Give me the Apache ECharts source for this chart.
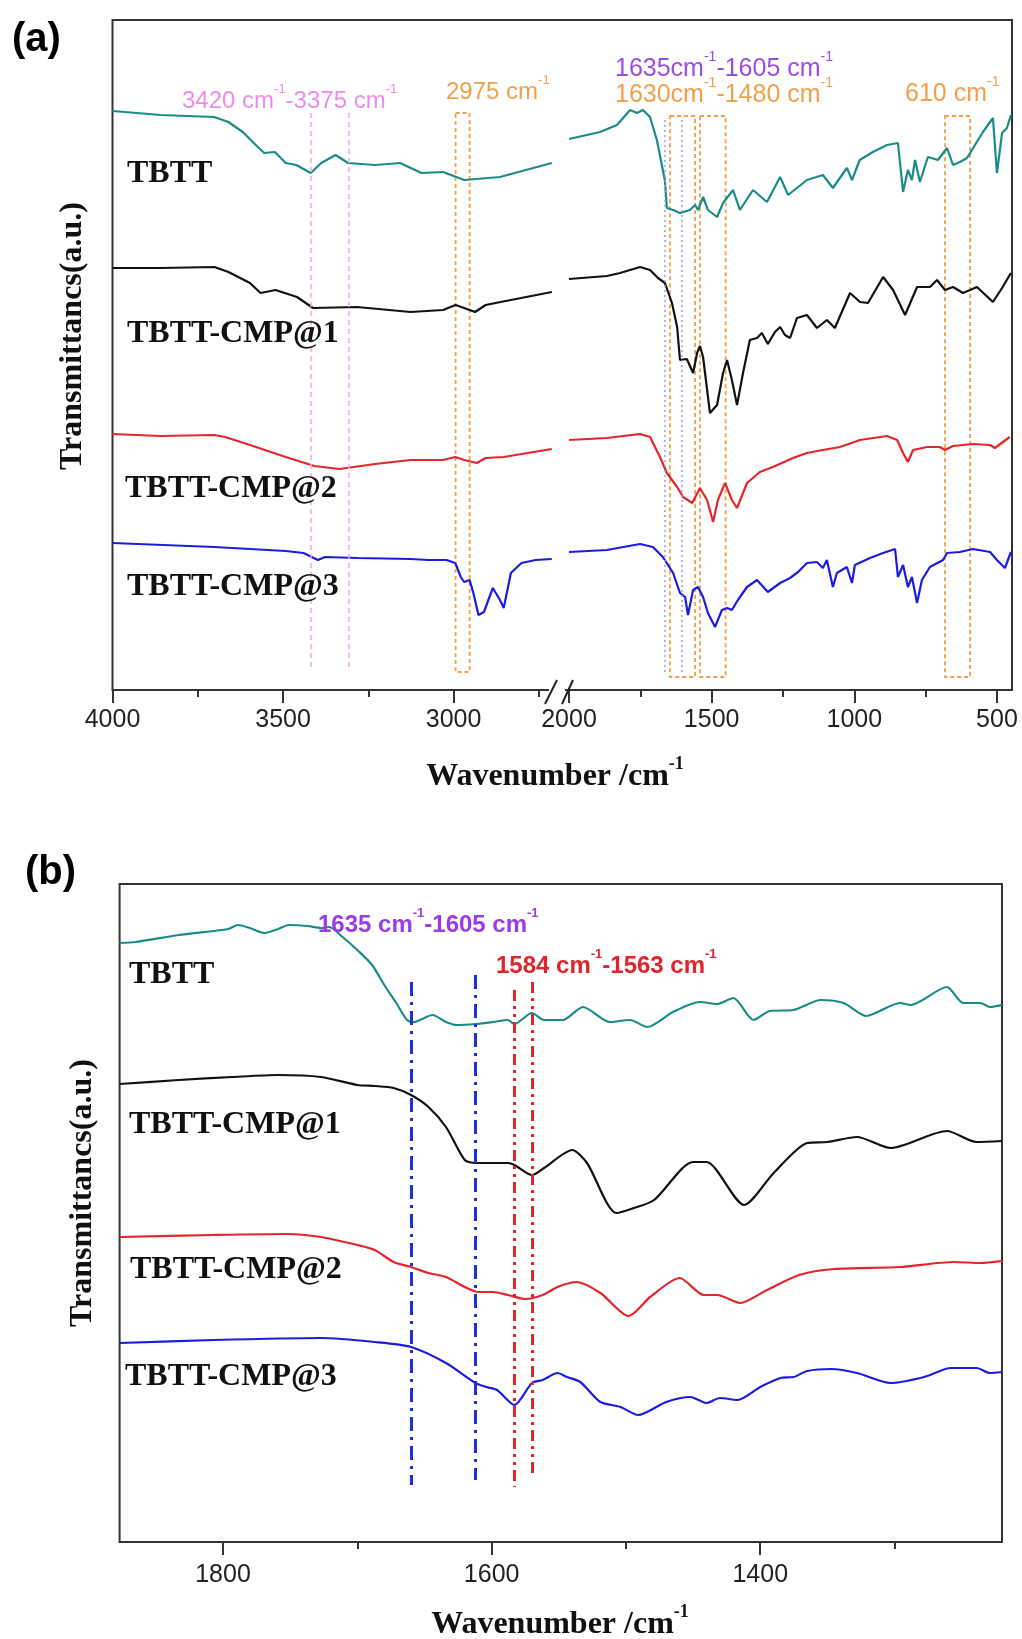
<!DOCTYPE html>
<html><head><meta charset="utf-8">
<script src="https://cdn.jsdelivr.net/npm/echarts@6/dist/echarts.min.js"></script>
<style>html,body{margin:0;padding:0;background:#fff}#c{width:1022px;height:1639px}</style>
</head><body><div id="c"></div>
<script>
// ---------- DATA (wavenumber, transmittance a.u.) ----------
const aTBTT_L = [[4000,579],[3859,575],[3702,573],[3660,568],[3618,558],[3586,547],[3555,537],[3524,538],[3492,527],[3461,525],[3419,517],[3388,527],[3346,535],[3309,527],[3230,525],[3157,527],[3094,517],[3031,518],[2969,510],[2864,513],[2712,527]];
const aCMP1_L = [[4000,422],[3858,422],[3701,423],[3660,418],[3597,407],[3566,397],[3522,400],[3459,393],[3412,382],[3283,383],[3126,378],[3031,380],[2994,385],[2969,382],[2937,378],[2906,385],[2862,388],[2712,398]];
const aCMP2_L = [[4000,256],[3859,254],[3702,255],[3670,253],[3597,245],[3492,233],[3408,224],[3335,221],[3230,226],[3126,230],[3031,230],[2995,233],[2969,230],[2932,227],[2906,232],[2853,233],[2712,241]];
const aCMP3_L = [[4000,147],[3702,143],[3492,139],[3440,137],[3398,130],[3377,133],[3283,132],[3126,131],[3073,130],[3021,130],[2995,127],[2979,113],[2969,108],[2953,110],[2942,97],[2927,75],[2911,78],[2885,102],[2864,90],[2853,82],[2832,117],[2801,127],[2759,130],[2712,131]];

const aTBTT_R = [[2000,551],[1891,558],[1832,565],[1786,580],[1762,577],[1741,580],[1716,573],[1692,550],[1664,510],[1657,482],[1635,480],[1611,477],[1576,480],[1558,485],[1548,480],[1530,493],[1513,480],[1481,473],[1460,487],[1425,500],[1401,480],[1355,500],[1306,488],[1260,513],[1232,495],[1166,510],[1110,515],[1075,502],[1026,522],[1008,510],[981,530],[935,538],[885,545],[847,547],[829,498],[812,520],[798,510],[787,530],[770,508],[742,533],[707,530],[675,542],[654,525],[630,528],[605,532],[549,558],[514,572],[500,517],[482,557],[465,562],[451,575]];
const aCMP1_R = [[2000,411],[1867,414],[1821,417],[1751,423],[1716,420],[1688,412],[1664,407],[1639,387],[1621,363],[1611,330],[1587,331],[1565,317],[1551,337],[1541,344],[1530,333],[1506,277],[1481,285],[1460,317],[1446,330],[1429,310],[1411,285],[1390,317],[1366,350],[1341,352],[1324,357],[1303,346],[1278,358],[1260,363],[1243,355],[1225,352],[1201,372],[1166,375],[1131,362],[1096,370],[1068,362],[1015,397],[980,388],[952,387],[899,413],[864,400],[822,375],[780,403],[735,403],[710,410],[682,400],[654,403],[619,397],[570,403],[514,388],[482,402],[451,417]];
const aCMP2_R = [[2000,250],[1867,252],[1751,256],[1716,253],[1681,233],[1657,217],[1621,203],[1600,193],[1568,187],[1541,202],[1516,190],[1495,168],[1478,190],[1453,207],[1429,190],[1411,182],[1376,207],[1331,218],[1285,223],[1215,232],[1166,237],[1110,240],[1050,243],[980,250],[885,254],[850,250],[829,237],[812,228],[794,240],[745,243],[700,243],[682,240],[654,244],[584,246],[524,245],[507,242],[479,248],[455,253]];
const aCMP3_R = [[2000,138],[1867,140],[1751,146],[1706,143],[1671,133],[1635,117],[1611,97],[1593,93],[1583,75],[1565,100],[1548,103],[1530,93],[1513,77],[1488,63],[1464,80],[1446,82],[1429,80],[1408,90],[1376,103],[1341,110],[1303,98],[1260,107],[1225,112],[1197,118],[1166,127],[1131,128],[1110,122],[1096,130],[1075,103],[1061,117],[1026,123],[1008,107],[998,125],[945,132],[899,137],[857,141],[847,113],[829,125],[812,103],[798,113],[780,87],[763,110],[735,123],[689,130],[675,137],[630,138],[584,141],[524,138],[500,130],[472,122],[451,138]];

const bTBTT = [[1877,599],[1865,600],[1833,607],[1796,613],[1789,617],[1780,614],[1769,609],[1759,613],[1751,617],[1737,616],[1727,614],[1721,615],[1711,605],[1700,592],[1689,577],[1679,555],[1671,539],[1663,522],[1658,520],[1644,527],[1634,520],[1626,517],[1612,518],[1599,520],[1588,522],[1583,518],[1570,529],[1561,522],[1547,522],[1532,535],[1512,520],[1497,522],[1484,515],[1465,530],[1445,540],[1432,538],[1420,544],[1405,522],[1393,531],[1375,532],[1355,542],[1338,539],[1321,526],[1296,539],[1288,537],[1261,555],[1249,539],[1236,539],[1229,535],[1220,537]];
const bCMP1 = [[1877,458],[1833,462],[1793,465],[1759,467],[1727,465],[1700,457],[1687,456],[1673,454],[1660,447],[1647,435],[1634,415],[1620,382],[1612,379],[1588,379],[1583,377],[1570,367],[1561,374],[1540,392],[1529,379],[1507,329],[1494,334],[1479,342],[1450,380],[1440,380],[1412,337],[1390,369],[1365,399],[1350,400],[1328,405],[1303,394],[1261,411],[1239,400],[1220,401]];
const bCMP2 = [[1877,305],[1807,307],[1753,308],[1727,305],[1700,297],[1687,292],[1673,280],[1660,275],[1647,269],[1634,265],[1620,255],[1610,250],[1599,250],[1588,247],[1575,243],[1562,247],[1551,255],[1537,260],[1519,249],[1498,226],[1482,245],[1460,264],[1442,247],[1432,247],[1415,239],[1395,252],[1371,267],[1345,273],[1296,275],[1256,280],[1236,279],[1220,281]];
const bCMP3 = [[1877,199],[1807,202],[1727,204],[1687,200],[1660,195],[1634,179],[1612,159],[1604,155],[1596,152],[1583,137],[1570,159],[1562,162],[1551,169],[1544,165],[1534,160],[1519,140],[1504,135],[1491,127],[1470,140],[1452,145],[1440,139],[1430,144],[1417,142],[1400,155],[1385,164],[1375,165],[1365,171],[1347,173],[1328,169],[1303,159],[1278,165],[1258,174],[1239,174],[1229,169],[1220,170]];

// tick values
const aTicksL = [4000, 3500, 3000];
const aMinorL = [3750, 3250, 2750];
const aTicksR = [2000, 1500, 1000, 500];
const aMinorR = [1750, 1250, 750];
const bTicks = [1800, 1600, 1400];
const bMinor = [1700, 1500, 1300];

// annotation positions (wavenumber, [top, bottom] in a.u.)
const aPinkLines = [3418, 3308];
const aOrangeBoxL = [[2994, 2953]];
const aBlueLines = [1664, 1604];
const aOrangeBoxR = [[1646, 1558], [1541, 1451], [682, 594]];
const bBlueLines = [[1660, 560, 57], [1612, 567, 62]];
const bRedLines = [[1583, 552, 55], [1570, 560, 64]];

const sampleNames = ['TBTT', 'TBTT-CMP@1', 'TBTT-CMP@2', 'TBTT-CMP@3'];
const colors = ['#1a8c88', '#111111', '#e3262b', '#1c1ce0'];

// ---------- BUILD ----------
const chart = echarts.init(document.getElementById('c'), null, {renderer: 'canvas'});
const SERIF = '"Liberation Serif","Times New Roman",serif';
const SANS = '"Liberation Sans",Arial,sans-serif';

function xMajor(grid, min, max, ticks, margin) {
  return {type: 'value', gridIndex: grid, min, max, inverse: true, position: 'bottom',
    axisLine: {show: false}, splitLine: {show: false},
    axisTick: {show: true, inside: false, length: 13, customValues: ticks, lineStyle: {color: '#333', width: 2}},
    axisLabel: {show: true, customValues: ticks, margin, fontSize: 25, fontFamily: SANS, color: '#222',
      formatter: v => String(v)}};
}
function xMinor(grid, min, max, ticks) {
  return {type: 'value', gridIndex: grid, min, max, inverse: true, position: 'bottom',
    axisLine: {show: false}, splitLine: {show: false},
    axisTick: {show: true, inside: false, length: 7, customValues: ticks, lineStyle: {color: '#333', width: 2}},
    axisLabel: {show: false}};
}
function yHidden(grid, max) {
  return {type: 'value', gridIndex: grid, min: 0, max, show: false};
}
function line(data, color, xi, yi, extra) {
  return Object.assign({type: 'line', data, xAxisIndex: xi, yAxisIndex: yi, showSymbol: false, symbol: 'none',
    lineStyle: {color, width: 2.2}, itemStyle: {color}, animation: false, silent: true, z: 3}, extra || {});
}
function vline(x, y1, y2, style) {
  return [{coord: [x, y1], lineStyle: style}, {coord: [x, y2]}];
}

const orangeBox = {color: 'rgba(0,0,0,0)', borderColor: '#f0a04b', borderWidth: 1.8, borderType: [4, 3]};

const series = [
  line(aTBTT_L, colors[0], 1, 1, {
    markLine: {silent: true, symbol: ['none', 'none'], label: {show: false}, animation: false,
      data: aPinkLines.map(v => vline(v, 577, 23, {color: '#f0a6f0', type: [5, 4], width: 1.5}))},
    markArea: {silent: true, label: {show: false}, animation: false,
      data: aOrangeBoxL.map(b => [{coord: [b[0], 577], itemStyle: orangeBox}, {coord: [b[1], 18]}])}
  }),
  line(aCMP1_L, colors[1], 1, 1),
  line(aCMP2_L, colors[2], 1, 1),
  line(aCMP3_L, colors[3], 1, 1),
  line(aTBTT_R, colors[0], 3, 2, {
    markLine: {silent: true, symbol: ['none', 'none'], label: {show: false}, animation: false,
      data: aBlueLines.map(v => vline(v, 570, 18, {color: '#9a9af0', type: [2, 3], width: 1.5}))},
    markArea: {silent: true, label: {show: false}, animation: false,
      data: aOrangeBoxR.map(b => [{coord: [b[0], 574], itemStyle: orangeBox}, {coord: [b[1], 13]}])}
  }),
  line(aCMP1_R, colors[1], 3, 2),
  line(aCMP2_R, colors[2], 3, 2),
  line(aCMP3_R, colors[3], 3, 2),
  line(bTBTT, colors[0], 5, 3, {smooth: 0.25, lineStyle: {color: colors[0], width: 2.2},
    markLine: {silent: true, symbol: ['none', 'none'], label: {show: false}, animation: false, z: 5,
      data: bBlueLines.map(l => vline(l[0], l[1], l[2], {color: '#2030d8', type: [14, 6, 3, 6], width: 3}))
        .concat(bRedLines.map(l => vline(l[0], l[1], l[2], {color: '#e0242c', type: [11, 5, 3, 5, 3, 5], width: 3})))}
  }),
  line(bCMP1, colors[1], 5, 3, {smooth: 0.25}),
  line(bCMP2, colors[2], 5, 3, {smooth: 0.25}),
  line(bCMP3, colors[3], 5, 3, {smooth: 0.25})
];

function tLabel(x, y, text) {
  return {type: 'text', x, y, z: 50, style: {text, font: 'bold 32px ' + SERIF, fill: '#111',
    align: 'left', verticalAlign: 'middle', textAlign: 'left', textVerticalAlign: 'middle'}};
}
function supText(x, y, parts, color, size, weight, family, align) {
  let txt = '';
  parts.forEach((p, i) => { txt += (i % 2 === 0 ? '{m|' : '{s|') + p + '}'; });
  const lh = size + 6;
  return {type: 'text', x, y, z: 50, style: {text: txt,
    align: align || 'left', verticalAlign: 'middle', textAlign: align || 'left', textVerticalAlign: 'middle',
    rich: {
      m: {fontSize: size, fontFamily: family, fontWeight: weight, fill: color, color, lineHeight: lh, verticalAlign: 'bottom'},
      s: {fontSize: Math.round(size * 0.55), fontFamily: family, fontWeight: weight, fill: color, color, lineHeight: lh, verticalAlign: 'top'}
    }}};
}

const graphic = [
  {type: 'text', x: 12, y: 40, z: 50, style: {text: '(a)', font: 'bold 40px ' + SANS, fill: '#000', align: 'left', verticalAlign: 'middle', textAlign: 'left', textVerticalAlign: 'middle'}},
  {type: 'text', x: 25, y: 873, z: 50, style: {text: '(b)', font: 'bold 40px ' + SANS, fill: '#000', align: 'left', verticalAlign: 'middle', textAlign: 'left', textVerticalAlign: 'middle'}},
  {type: 'text', x: 73, y: 336, rotation: Math.PI / 2, z: 50, style: {text: 'Transmittancs(a.u.)', font: 'bold 32px ' + SERIF, fill: '#111', align: 'center', verticalAlign: 'middle', textAlign: 'center', textVerticalAlign: 'middle'}},
  {type: 'text', x: 83, y: 1193, rotation: Math.PI / 2, z: 50, style: {text: 'Transmittancs(a.u.)', font: 'bold 32px ' + SERIF, fill: '#111', align: 'center', verticalAlign: 'middle', textAlign: 'center', textVerticalAlign: 'middle'}},
  supText(555, 774, ['Wavenumber /cm', '-1'], '#111', 32, 'bold', SERIF, 'center'),
  supText(560, 1622, ['Wavenumber /cm', '-1'], '#111', 32, 'bold', SERIF, 'center'),
  tLabel(127, 174, sampleNames[0]),
  tLabel(127, 334, sampleNames[1]),
  tLabel(125, 489, sampleNames[2]),
  tLabel(127, 587, sampleNames[3]),
  tLabel(129, 975, sampleNames[0]),
  tLabel(129, 1125, sampleNames[1]),
  tLabel(130, 1270, sampleNames[2]),
  tLabel(125, 1377, sampleNames[3]),
  supText(182, 98, ['3420 cm', '-1', '-3375 cm', '-1'], '#ea8cea', 24, 'normal', SANS),
  supText(446, 89, ['2975 cm', '-1'], '#f0a04b', 24, 'normal', SANS),
  supText(615, 66, ['1635cm', '-1', '-1605 cm', '-1'], '#9a4de6', 25, 'normal', SANS),
  supText(615, 92, ['1630cm', '-1', '-1480 cm', '-1'], '#f0a04b', 25, 'normal', SANS),
  supText(905, 91, ['610 cm', '-1'], '#f0a04b', 25, 'normal', SANS),
  supText(318, 922, ['1635 cm', '-1', '-1605 cm', '-1'], '#9a3be8', 24, 'bold', SANS),
  supText(496, 963, ['1584 cm', '-1', '-1563 cm', '-1'], '#e0242c', 24, 'bold', SANS),
  // axis break marks
  {type: 'rect', z: 60, shape: {x: 549, y: 686, width: 16, height: 8}, style: {fill: '#fff'}},
  {type: 'line', z: 61, shape: {x1: 545, y1: 704, x2: 557, y2: 680}, style: {stroke: '#222', lineWidth: 2}},
  {type: 'line', z: 61, shape: {x1: 562, y1: 704, x2: 573, y2: 680}, style: {stroke: '#222', lineWidth: 2}}
];

const option = {
  backgroundColor: '#fff',
  animation: false,
  grid: [
    {left: 112.5, top: 20, width: 899.5, height: 670, show: true, borderColor: '#333', borderWidth: 2, backgroundColor: 'transparent', containLabel: false},
    {left: 112.5, top: 20, width: 443.4, height: 670, containLabel: false},
    {left: 569, top: 20, width: 442.2, height: 670, containLabel: false},
    {left: 119.6, top: 884, width: 882.4, height: 658, show: true, borderColor: '#333', borderWidth: 2, backgroundColor: 'transparent', containLabel: false}
  ],
  xAxis: [
    {type: 'value', gridIndex: 0, min: 0, max: 1, show: false},
    xMajor(1, 2700, 4000, aTicksL, 18),
    xMinor(1, 2700, 4000, aMinorL),
    xMajor(2, 450, 2000, aTicksR, 18),
    xMinor(2, 450, 2000, aMinorR),
    xMajor(3, 1220, 1877, bTicks, 21),
    xMinor(3, 1220, 1877, bMinor)
  ],
  yAxis: [
    {type: 'value', gridIndex: 0, min: 0, max: 1, show: false},
    yHidden(1, 670),
    yHidden(2, 670),
    yHidden(3, 658)
  ],
  series,
  graphic
};
chart.setOption(option);
</script></body></html>
